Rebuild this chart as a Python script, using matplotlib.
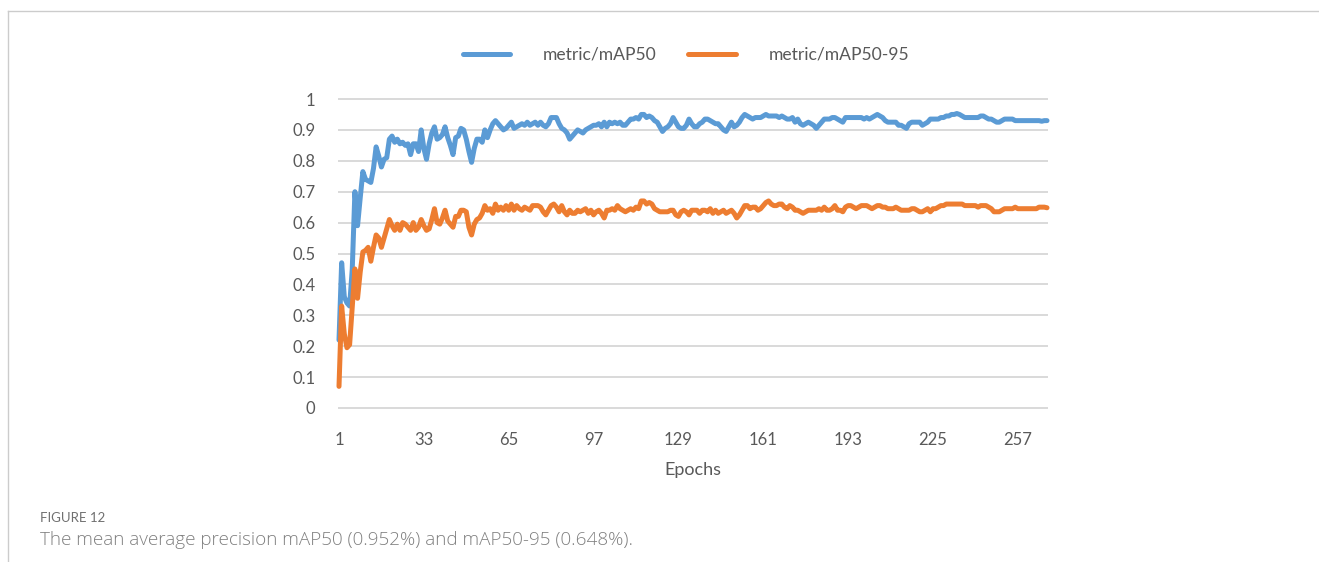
import numpy as np
import matplotlib
matplotlib.use('Agg')
import matplotlib.pyplot as plt
from matplotlib.lines import Line2D

# metric/mAP50 per epoch
map50 = [
    0.22, 0.47, 0.36, 0.34, 0.33, 0.45, 0.70, 0.59, 0.68, 0.765,
    0.74, 0.735, 0.73, 0.775, 0.845, 0.815, 0.78, 0.805, 0.81, 0.87,
    0.88, 0.86, 0.87, 0.855, 0.86, 0.85, 0.855, 0.82, 0.855, 0.855,
    0.83, 0.90, 0.84, 0.805, 0.855, 0.89, 0.91, 0.87, 0.875, 0.885,
    0.91, 0.875, 0.85, 0.82, 0.875, 0.88, 0.905, 0.90, 0.87, 0.83,
    0.795, 0.84, 0.87,
    0.87, 0.86, 0.90, 0.875, 0.90, 0.92, 0.93, 0.92, 0.91, 0.90,
    0.905, 0.915, 0.925, 0.905, 0.91, 0.915, 0.92, 0.915, 0.925, 0.915,
    0.92, 0.925, 0.915, 0.925, 0.915, 0.91, 0.92, 0.94, 0.94, 0.94,
    0.92, 0.905, 0.90, 0.89, 0.87, 0.88, 0.89, 0.90, 0.895, 0.89,
    0.90, 0.905, 0.91, 0.915, 0.915, 0.92, 0.91, 0.925, 0.91, 0.925,
    0.92, 0.925, 0.92,
    0.925, 0.915, 0.915, 0.925, 0.935, 0.935, 0.94, 0.935, 0.95, 0.95,
    0.94, 0.945, 0.94, 0.93, 0.925, 0.91, 0.895, 0.905, 0.91, 0.92,
    0.94, 0.925, 0.91, 0.905, 0.905, 0.915, 0.935, 0.92, 0.91, 0.91,
    0.92, 0.925, 0.935, 0.935, 0.93, 0.925, 0.92, 0.92, 0.91, 0.90,
    0.895, 0.91, 0.925, 0.91, 0.915, 0.925, 0.94, 0.95, 0.945, 0.94,
    0.935, 0.94, 0.94,
    0.94, 0.945, 0.95, 0.945, 0.945, 0.945, 0.945, 0.94, 0.945, 0.94,
    0.935, 0.935, 0.94, 0.925, 0.935, 0.92, 0.915, 0.92, 0.925, 0.92,
    0.915, 0.905, 0.915, 0.925, 0.935, 0.935, 0.935, 0.94, 0.94, 0.935,
    0.93, 0.925, 0.94, 0.94, 0.94, 0.94, 0.94, 0.94, 0.94, 0.935,
    0.94, 0.935, 0.94, 0.945, 0.95, 0.945, 0.94, 0.93, 0.925, 0.925,
    0.925, 0.925, 0.915,
    0.915, 0.91, 0.905, 0.92, 0.925, 0.925, 0.925, 0.925, 0.915, 0.92,
    0.925, 0.935, 0.935, 0.935, 0.935, 0.94, 0.94, 0.945, 0.945, 0.95,
    0.95, 0.953, 0.95, 0.945, 0.94, 0.94, 0.94, 0.94, 0.94, 0.94,
    0.945, 0.945, 0.94, 0.935, 0.935, 0.93, 0.925, 0.925, 0.93, 0.935,
    0.935, 0.935, 0.935, 0.93, 0.93, 0.93, 0.93, 0.93, 0.93, 0.93,
    0.93, 0.93, 0.93, 0.928, 0.93, 0.93,
]

# metric/mAP50-95 per epoch
map50_95 = [
    0.07, 0.33, 0.24, 0.195, 0.205, 0.33, 0.45, 0.355, 0.44, 0.505,
    0.51, 0.52, 0.475, 0.52, 0.56, 0.55, 0.52, 0.55, 0.58, 0.61,
    0.59, 0.575, 0.595, 0.575, 0.60, 0.595, 0.585, 0.575, 0.60, 0.575,
    0.585, 0.61, 0.59, 0.575, 0.58, 0.61, 0.645, 0.60, 0.595, 0.615,
    0.64, 0.605, 0.595, 0.585, 0.62, 0.62, 0.64, 0.64, 0.635, 0.585,
    0.56, 0.595, 0.61,
    0.615, 0.63, 0.655, 0.64, 0.645, 0.63, 0.66, 0.64, 0.65, 0.64,
    0.655, 0.64, 0.66, 0.64, 0.655, 0.645, 0.64, 0.65, 0.645, 0.64,
    0.655, 0.655, 0.655, 0.65, 0.635, 0.625, 0.64, 0.655, 0.66, 0.65,
    0.635, 0.655, 0.635, 0.625, 0.64, 0.63, 0.63, 0.64, 0.635, 0.64,
    0.645, 0.63, 0.64, 0.625, 0.635, 0.64, 0.63, 0.615, 0.64, 0.64,
    0.645, 0.64, 0.655,
    0.645, 0.64, 0.635, 0.64, 0.645, 0.64, 0.65, 0.645, 0.67, 0.67,
    0.66, 0.665, 0.66, 0.645, 0.64, 0.635, 0.635, 0.635, 0.635, 0.64,
    0.64, 0.625, 0.62, 0.635, 0.64, 0.635, 0.625, 0.64, 0.64, 0.64,
    0.63, 0.64, 0.64, 0.635, 0.645, 0.63, 0.64, 0.63, 0.635, 0.64,
    0.63, 0.635, 0.64, 0.63, 0.615, 0.625, 0.64, 0.655, 0.655, 0.645,
    0.65, 0.65, 0.64,
    0.645, 0.655, 0.665, 0.67, 0.66, 0.655, 0.655, 0.66, 0.66, 0.65,
    0.645, 0.655, 0.65, 0.64, 0.64, 0.635, 0.63, 0.635, 0.64, 0.64,
    0.64, 0.64, 0.645, 0.64, 0.65, 0.64, 0.64, 0.645, 0.655, 0.64,
    0.64, 0.635, 0.65, 0.655, 0.655, 0.65, 0.645, 0.65, 0.655, 0.655,
    0.655, 0.65, 0.645, 0.65, 0.655, 0.655, 0.65, 0.65, 0.645, 0.645,
    0.645, 0.65, 0.645,
    0.64, 0.64, 0.64, 0.64, 0.645, 0.645, 0.64, 0.635, 0.635, 0.64,
    0.645, 0.635, 0.645, 0.645, 0.65, 0.655, 0.655, 0.66, 0.66, 0.66,
    0.66, 0.66, 0.66, 0.66, 0.655, 0.655, 0.655, 0.655, 0.655, 0.65,
    0.655, 0.655, 0.655, 0.65, 0.645, 0.635, 0.635, 0.635, 0.64, 0.645,
    0.645, 0.645, 0.645, 0.65, 0.645, 0.645, 0.645, 0.645, 0.645, 0.645,
    0.645, 0.645, 0.65, 0.65, 0.65, 0.648,
]

epochs = np.arange(1, len(map50) + 1)
x_ticks = [1, 33, 65, 97, 129, 161, 193, 225, 257]
y_ticks = [0, 0.1, 0.2, 0.3, 0.4, 0.5, 0.6, 0.7, 0.8, 0.9, 1]
y_labels = ['0', '0.1', '0.2', '0.3', '0.4', '0.5', '0.6', '0.7', '0.8', '0.9', '1']
series_names = ['metric/mAP50', 'metric/mAP50-95']
caption_head = 'FIGURE 12'
caption_text = 'The mean average precision mAP50 (0.952%) and mAP50-95 (0.648%).'

plt.rcParams['font.family'] = ['Lato', 'DejaVu Sans']

W, H = 1319, 562
fig = plt.figure(figsize=(W / 100, H / 100), dpi=100)

# plot area in pixels: x 339..1047, y 99..408
ax = fig.add_axes([339 / W, (H - 408) / H, 708 / W, 309 / H])

blue = '#5b9bd5'
orange = '#ed7d31'
ax.plot(epochs, map50, color=blue, lw=3.6, solid_joinstyle='round',
        solid_capstyle='round', label=series_names[0], clip_on=False)
ax.plot(epochs, map50_95, color=orange, lw=3.6, solid_joinstyle='round',
        solid_capstyle='round', label=series_names[1], clip_on=False)

ax.set_xlim(1, len(epochs))
ax.set_ylim(0, 1)
ax.set_yticks(y_ticks)
ax.set_yticklabels(y_labels)
ax.set_xticks(x_ticks)
ax.set_xticklabels([str(t) for t in x_ticks])

for g in y_ticks:
    ax.axhline(g, color='#d9d9d9', lw=1.4, zorder=0, clip_on=False)

for s in ax.spines.values():
    s.set_visible(False)
ax.tick_params(length=0, labelsize=12, labelcolor='#595959')
ax.tick_params(axis='y', pad=17)
ax.tick_params(axis='x', pad=17)
ax.set_xlabel('Epochs', fontsize=13, color='#595959', labelpad=10)

fig.legend(loc='center', bbox_to_anchor=(686 / W, 1 - 55 / H), ncol=2,
           frameon=False, fontsize=12.6, handlelength=2.7, handletextpad=1.9,
           columnspacing=1.8, labelcolor='#595959')

# page frame lines
fig.add_artist(Line2D([8 / W, 1], [1 - 11 / H, 1 - 11 / H], color='#cccccc', lw=1))
fig.add_artist(Line2D([8 / W, 8 / W], [0, 1 - 11 / H], color='#cccccc', lw=1))

fig.text(40 / W, 1 - 518 / H, caption_head, fontsize=9.5, color='#707070', va='center')
fig.text(40 / W, 1 - 540 / H, caption_text, fontsize=13.6, color='#808080',
         va='center', family=['Open Sans', 'DejaVu Sans'], fontweight='light')

fig.savefig('out.png', dpi=100)
